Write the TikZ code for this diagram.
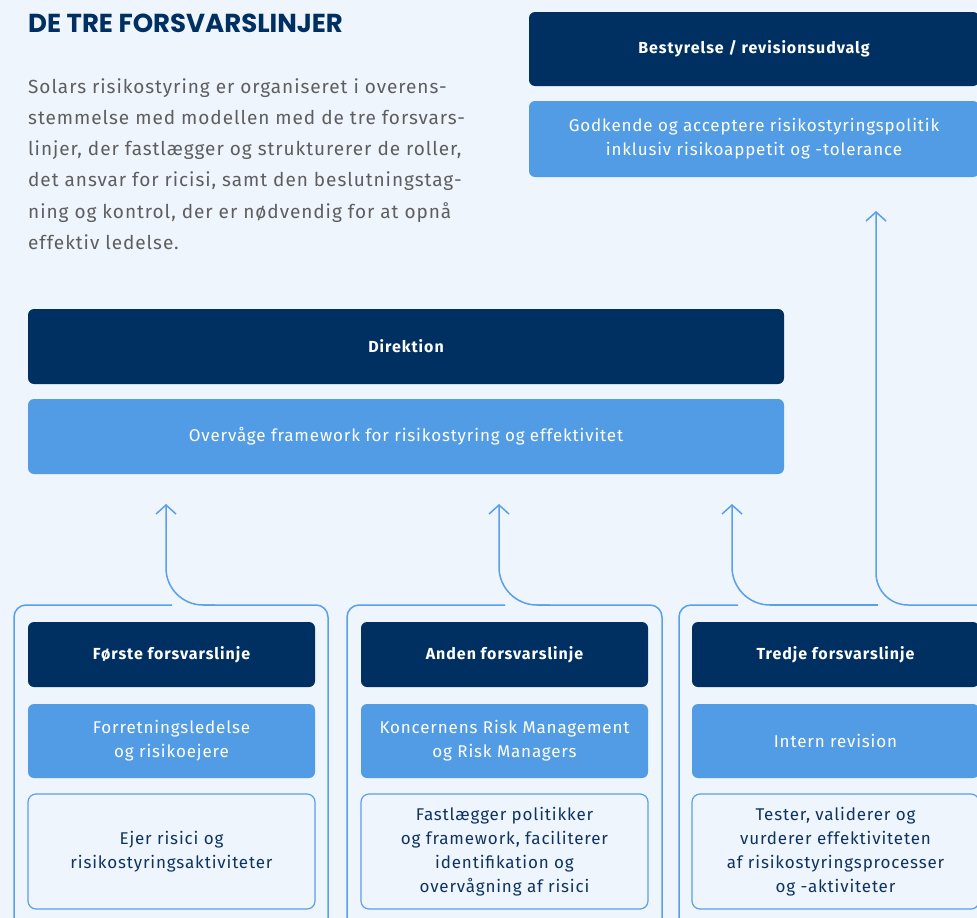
\documentclass[tikz,border=0pt]{standalone}
\usepackage{fontspec}
\setmainfont{Fira Sans}
\newfontfamily\titlefont{Poppins}
\newfontfamily\bodyfont{Fira Sans}[LetterSpace=5]
\newfontfamily\boxfont{Fira Sans}[LetterSpace=5]
\newfontfamily\headfont{Fira Sans}[LetterSpace=6]
\usetikzlibrary{arrows.meta}
\definecolor{navy}{HTML}{003062}
\definecolor{lightblue}{HTML}{529CE6}
\definecolor{bgcol}{HTML}{EEF5FD}
\definecolor{lineblue}{HTML}{5A9FE8}
\definecolor{graytext}{HTML}{5E5E5E}
\definecolor{navytext}{HTML}{0E3360}
\begin{document}
\begin{tikzpicture}[x=1pt,y=-1pt,
  darkbox/.style={fill=navy, rounded corners=6pt, text=white, inner sep=0pt, align=center,
    font=\headfont\fontsize{16}{20}\selectfont\bfseries},
  lightbox/.style={fill=lightblue, rounded corners=6pt, text=white, inner sep=0pt, align=center,
    font=\boxfont\fontsize{17}{24}\selectfont},
  outlinebox/.style={draw=lineblue, line width=1.2pt, fill=bgcol, rounded corners=8pt, text=navytext,
    inner sep=0pt, align=center, font=\boxfont\fontsize{17}{24}\selectfont},
  frame/.style={draw=lineblue, line width=1.5pt, rounded corners=12pt},
  conn/.style={draw=lineblue, line width=1.5pt, -{Straight Barb[length=9pt,width=20pt]}}
]
\fill[bgcol] (0,0) rectangle (977,918);
\useasboundingbox (0,0) rectangle (977,918);

% heading and intro
\node[anchor=north west, inner sep=0pt, text=navy, font=\titlefont\fontsize{26}{26}\selectfont\bfseries] (title) at (28,14) {DE TRE FORSVARSLINJER};
\node[anchor=north west, inner sep=0pt, align=left, text=graytext, font=\bodyfont\fontsize{19}{31.3}\selectfont] (intro) at (28,78)
 {Solars risikostyring er organiseret i overens-\\
  stemmelse med modellen med de tre forsvars-\\
  linjer, der fastlægger og strukturerer de roller,\\
  det ansvar for ricisi, samt den beslutningstag-\\
  ning og kontrol, der er nødvendig for at opnå\\
  effektiv ledelse.};

% board
\node[darkbox, minimum width=450pt, minimum height=74pt] (board) at (754,49) {Bestyrelse / revisionsudvalg};
\node[lightbox, minimum width=450pt, minimum height=76pt] (approve) at (754,139) {Godkende og acceptere risikostyringspolitik\\inklusiv risikoappetit og -tolerance};

% executive
\node[darkbox, minimum width=756pt, minimum height=75pt] (exec) at (406,346.5) {Direktion};
\node[lightbox, minimum width=756pt, minimum height=75pt] (monitor) at (406,436.5) {Overvåge framework for risikostyring og effektivitet};

% column frames
\draw[frame] (172,605) -- (14,605) -- (14,940);
\draw[frame] (203,605) -- (328,605) -- (328,940);
\draw[frame] (505,605) -- (347,605) -- (347,940);
\draw[frame] (537,605) -- (662,605) -- (662,940);
\draw[frame] (738,605) -- (679,605) -- (679,940);
\draw[frame] (770,605) -- (878,605);

% column 1
\node[darkbox, minimum width=287pt, minimum height=65pt] (l1) at (171.5,654.5) {Første forsvarslinje};
\node[lightbox, minimum width=287pt, minimum height=74pt] (r1) at (171.5,741) {Forretningsledelse\\og risikoejere};
\node[outlinebox, minimum width=287pt, minimum height=115pt] (d1) at (171.5,851.5) {Ejer risici og\\risikostyringsaktiviteter};

% column 2
\node[darkbox, minimum width=287pt, minimum height=65pt] (l2) at (504.5,654.5) {Anden forsvarslinje};
\node[lightbox, minimum width=287pt, minimum height=74pt] (r2) at (504.5,741) {Koncernens Risk Management\\og Risk Managers};
\node[outlinebox, minimum width=287pt, minimum height=115pt] (d2) at (504.5,851.5) {Fastlægger politikker\\og framework, faciliterer\\identifikation og\\overvågning af risici};

% column 3
\node[darkbox, minimum width=287pt, minimum height=65pt] (l3) at (835.5,654.5) {Tredje forsvarslinje};
\node[lightbox, minimum width=287pt, minimum height=74pt] (r3) at (835.5,741) {Intern revision};
\node[outlinebox, minimum width=287pt, minimum height=115pt] (d3) at (835.5,851.5) {Tester, validerer og\\vurderer effektiviteten\\af risikostyringsprocesser\\og -aktiviteter};

% connectors
\coordinate (f1) at (215,605); \coordinate (t1) at (166,504);
\coordinate (f2) at (550,605); \coordinate (t2) at (499,504);
\coordinate (f3) at (782,605); \coordinate (t3) at (732,504);
\coordinate (f4) at (990,605); \coordinate (t4) at (876,211);
\draw[conn, rounded corners=37pt] (f1) -- (f1 -| t1) -- (t1);
\draw[conn, rounded corners=38pt] (f2) -- (f2 -| t2) -- (t2);
\draw[conn, rounded corners=38pt] (f3) -- (f3 -| t3) -- (t3);
\draw[conn, rounded corners=32pt] (f4) -- (f4 -| t4) -- (t4);
\end{tikzpicture}
\end{document}
